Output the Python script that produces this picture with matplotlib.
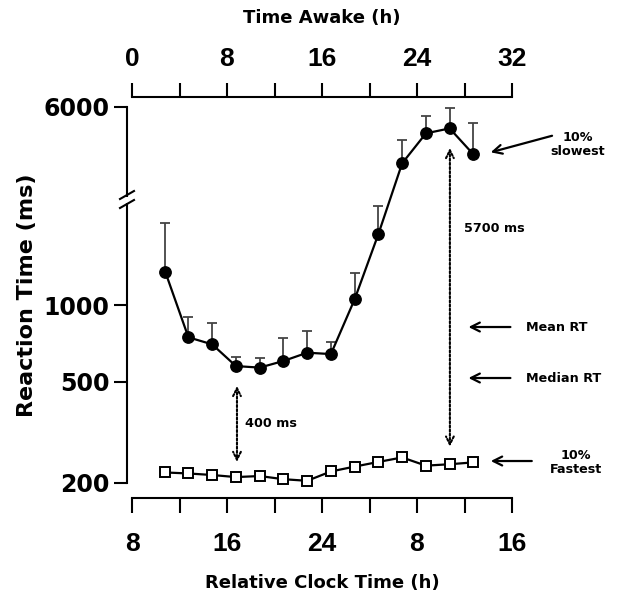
import numpy as np
import matplotlib
matplotlib.use("Agg")
import matplotlib.pyplot as plt
from matplotlib.lines import Line2D
from matplotlib.patches import Rectangle
from matplotlib.ticker import FixedLocator

# hours since waking for each test bout (clock time = awake + 8)
awake_h = [2.8, 4.75, 6.75, 8.75, 10.75, 12.75, 14.75, 16.75, 18.75, 20.75, 22.75, 24.75, 26.75, 28.75]
slowest = [1352, 747, 701, 576, 568, 603, 650, 642, 1054, 1902, 3606, 4727, 4944, 3908]
slowest_err = [748, 153, 147, 48, 50, 137, 144, 76, 279, 554, 843, 803, 985, 1269]
fastest = [220, 218, 215, 211, 213, 207, 204, 222, 232, 242, 252, 234, 237, 241]

clock_ticks = [8, 16, 24, 32, 40]
clock_labels = ["8", "16", "24", "8", "16"]
awake_ticks = [0, 8, 16, 24, 32]
y_ticks = [200, 500, 1000, 6000]

W, H = 624, 596
fig = plt.figure(figsize=(W / 100, H / 100), dpi=100)
ax = fig.add_axes([132 / W, 1 - 483 / H, 380 / W, 376 / H])

clock = np.array(awake_h) + 8

ax.errorbar(clock, slowest, yerr=[np.zeros(len(slowest)), slowest_err], fmt="none",
            ecolor="#444444", elinewidth=1.3, capsize=3.5, capthick=1.3, zorder=2)
ax.plot(clock, slowest, color="black", lw=1.6, marker="o", ms=8.2, mfc="black",
        mec="black", zorder=3, clip_on=False)
ax.plot(clock, fastest, color="black", lw=1.6, marker="s", ms=6.5, mfc="white",
        mec="black", mew=1.4, zorder=3, clip_on=False)

ax.set_yscale("log")
ax.set_ylim(200, 6000)
ax.set_xlim(8, 40)

ax.spines["top"].set_visible(False)
ax.spines["right"].set_visible(False)
ax.spines["left"].set_position(("outward", 3.6))
ax.spines["bottom"].set_position(("outward", 10.8))
for s in ("left", "bottom"):
    ax.spines[s].set_linewidth(1.5)
ax.tick_params(axis="y", which="major", length=9.5, width=1.5, pad=3)
ax.tick_params(axis="y", which="minor", length=0)
ax.tick_params(axis="x", which="both", length=10.5, width=1.5, pad=14)

ax.yaxis.set_major_locator(FixedLocator(y_ticks))
ax.yaxis.set_minor_locator(FixedLocator([]))
ax.set_yticks(y_ticks, [str(v) for v in y_ticks], fontsize=17, fontweight="bold")
ax.set_xticks(clock_ticks, clock_labels, fontsize=19, fontweight="bold", family="Liberation Sans")
ax.xaxis.set_minor_locator(FixedLocator([12, 20, 28, 36]))

ax.set_xlabel("Relative Clock Time (h)", fontsize=13, fontweight="bold", labelpad=13)
ax.set_ylabel("Reaction Time (ms)", fontsize=16, fontweight="bold", labelpad=5)

# top axis: time awake
ax2 = ax.twiny()
ax2.set_xlim(0, 32)
for s in ("left", "right", "bottom"):
    ax2.spines[s].set_visible(False)
ax2.spines["top"].set_position(("outward", 7.2))
ax2.spines["top"].set_linewidth(1.5)
ax2.tick_params(axis="x", which="both", length=10, width=1.5, pad=9)
ax2.set_xticks(awake_ticks, [str(v) for v in awake_ticks], fontsize=19, fontweight="bold",
               family="Liberation Sans")
ax2.xaxis.set_minor_locator(FixedLocator([4, 12, 20, 28]))
ax2.set_xlabel("Time Awake (h)", fontsize=13, fontweight="bold", labelpad=17)

# axis break on the left spine
fig.add_artist(Rectangle((122 / W, 1 - 203 / H), 10 / W, 6 / H, transform=fig.transFigure,
                         facecolor="white", edgecolor="none", zorder=10))
for yc in (195, 204):
    fig.add_artist(Line2D([120 / W, 134 / W], [1 - (yc + 4) / H, 1 - (yc - 4) / H],
                          transform=fig.transFigure, color="black", lw=1.5, zorder=11))

# annotations
arrow = dict(arrowstyle="->", lw=1.6, color="black", mutation_scale=16)
ax.annotate("", xy=(37.98, 3956), xytext=(43.6, 4656), arrowprops=arrow, annotation_clip=False)
ax.annotate("", xy=(36.1, 820), xytext=(40.1, 820), arrowprops=arrow, annotation_clip=False)
ax.annotate("", xy=(36.1, 517), xytext=(40.1, 517), arrowprops=arrow, annotation_clip=False)
ax.annotate("", xy=(37.98, 244), xytext=(41.9, 244), arrowprops=arrow, annotation_clip=False)

dotted = dict(arrowstyle="<->", lw=1.5, color="black", linestyle=(0, (1, 1)), mutation_scale=14,
              shrinkA=0, shrinkB=0)
ax.annotate("", xy=(16.84, 242), xytext=(16.84, 481), arrowprops=dotted)
ax.annotate("", xy=(34.77, 278), xytext=(34.77, 4140), arrowprops=dotted)

txt = dict(fontsize=9.2, fontweight="bold", va="center")
ax.text(17.55, 344, "400 ms", ha="left", **txt)
ax.text(35.95, 2007, "5700 ms", ha="left", **txt)
ax.text(41.2, 820, "Mean RT", ha="left", **txt)
ax.text(41.2, 517, "Median RT", ha="left", **txt)
ax.text(45.5, 4290, "10%\nslowest", ha="center", linespacing=1.1, **txt)
ax.text(45.4, 240, "10%\nFastest", ha="center", linespacing=1.1, **txt)

fig.savefig("out.png", dpi=100)
